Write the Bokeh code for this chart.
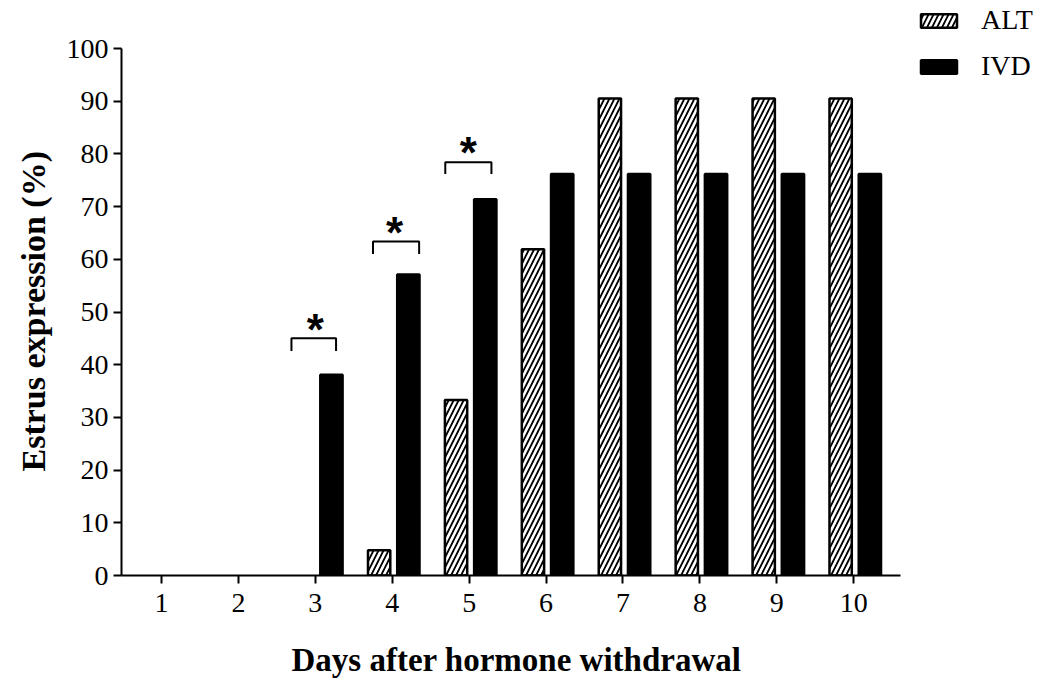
from bokeh.plotting import figure
from bokeh.models import ColumnDataSource, Range1d, Legend, LegendItem, FixedTicker, Title
from bokeh.transform import dodge
from bokeh.core.properties import value
from bokeh.embed import file_html
from bokeh.resources import INLINE

days = [1, 2, 3, 4, 5, 6, 7, 8, 9, 10]
alt = [0, 0, 0, 4.8, 33.3, 61.9, 90.5, 90.5, 90.5, 90.5]
ivd = [0, 0, 38.1, 57.1, 71.4, 76.2, 76.2, 76.2, 76.2, 76.2]
y_ticks = [0, 10, 20, 30, 40, 50, 60, 70, 80, 90, 100]

# significance brackets (days 3, 4, 5)
br_x0 = [2.69, 3.75, 4.69]
br_x1 = [3.27, 4.35, 5.29]
br_top = [45.0, 63.4, 78.4]
br_tip = [42.6, 61.0, 76.2]
star_x = [3.0, 4.03, 4.99]
star_y = [48.0, 66.4, 81.6]

FONT = "Liberation Serif"

X0, XAX_END = 0.4805, 10.61
p = figure(width=1048, height=680, output_backend="svg", toolbar_location=None,
           x_range=Range1d(X0, X0 + 928 / 77.0), y_range=Range1d(0, 100 * 575 / 527.0),
           min_border_left=120, min_border_top=0, min_border_bottom=105,
           min_border_right=0)
p.outline_line_color = None
p.grid.visible = False
p.background_fill_color = "white"

src_a = ColumnDataSource(dict(day=[d for d, v in zip(days, alt) if v > 0],
                              val=[v for v in alt if v > 0]))
src_i = ColumnDataSource(dict(day=[d for d, v in zip(days, ivd) if v > 0],
                              val=[v for v in ivd if v > 0]))
r_alt = p.vbar(x=dodge("day", -0.17, range=p.x_range), top="val", width=0.29, source=src_a,
               fill_color="white", line_color="black", line_width=2.5,
               hatch_pattern="/", hatch_color="black", hatch_scale=10, hatch_weight=1.8)
r_ivd = p.vbar(x=dodge("day", 0.21, range=p.x_range), top="val", width=0.29, source=src_i,
               fill_color="black", line_color="black", line_width=2.5)

# brackets
xs = [[a, a, b, b] for a, b in zip(br_x0, br_x1)]
ys = [[t0, t1, t1, t0] for t0, t1 in zip(br_tip, br_top)]
p.multi_line(xs=xs, ys=ys, line_color="black", line_width=2)
p.text(x=star_x, y=star_y, text=["*"] * 3, text_align="center", text_baseline="middle",
       text_font=value("Liberation Sans"), text_font_size="44px", text_font_style="bold",
       text_color="black", y_offset=7)

# axes
for ax in (p.xaxis[0], p.yaxis[0]):
    ax.axis_line_width = 2
    ax.axis_line_color = "black"
    ax.major_tick_line_width = 2
    ax.major_tick_out = 8
    ax.major_tick_in = 0
    ax.minor_tick_line_color = None
    ax.major_label_text_font = FONT
    ax.major_label_text_font_size = "28px"
    ax.major_label_text_color = "black"

p.xaxis.bounds = (X0, XAX_END)
p.yaxis.bounds = (0, 100)
p.xaxis.ticker = FixedTicker(ticks=days)
p.yaxis.ticker = FixedTicker(ticks=y_ticks)
p.xaxis.major_label_standoff = 10
p.yaxis.major_label_standoff = 5
# invisible spacer label to push the axis title down
p.xaxis.axis_label = " "
p.xaxis.axis_label_text_font_size = "1px"
p.xaxis.axis_label_standoff = 18

# axis titles (positioned to centre on the visible axes)
xt = Title(text="Days after hormone withdrawal", align="left", offset=170, standoff=6,
           text_font=FONT, text_font_size="33px", text_font_style="bold", text_color="black")
yt = Title(text="Estrus expression (%)", align="left", offset=104, standoff=24,
           text_font=FONT, text_font_size="34px", text_font_style="bold", text_color="black")
p.add_layout(xt, "below")
p.add_layout(yt, "left")

legend = Legend(items=[LegendItem(label="ALT", renderers=[r_alt]),
                       LegendItem(label="IVD", renderers=[r_ivd])],
                location=(795, 493), orientation="vertical",
                glyph_width=45, glyph_height=17, label_height=32, spacing=14,
                padding=0, margin=0, border_line_color=None,
                background_fill_alpha=0, label_text_font=FONT,
                label_text_font_size="28px", label_standoff=20,
                label_text_color="black")
p.add_layout(legend, "center")

open("out.html", "w").write(file_html(p, INLINE))
